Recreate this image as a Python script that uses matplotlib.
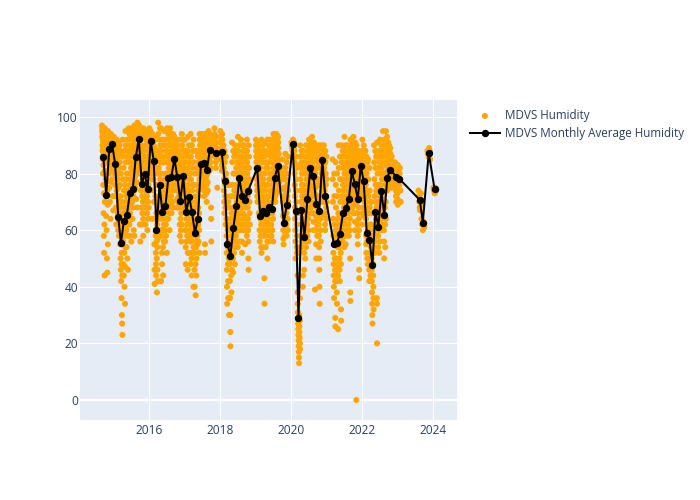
import numpy as np
import pandas as pd
import matplotlib
matplotlib.use('Agg')
import matplotlib.pyplot as plt
import matplotlib.dates as mdates

# daily humidity readings, grouped by month (estimated from the chart)
hum_2014 = {
    9: [97, 95, 93, 96, 90, 88, 94, 85, 92, 80, 89, 76, 91, 83, 66, 87, 58, 95, 73, 52, 86, 62, 93, 44, 81, 70],
    10: [96, 94, 91, 95, 87, 93, 84, 78, 90, 65, 92, 86, 60, 94, 81, 50, 89, 74, 45, 88, 92, 69, 55],
    11: [95, 93, 90, 94, 88, 86, 92, 80, 91, 75, 89, 94, 82, 70, 93, 87, 84, 91, 64, 77],
    12: [94, 92, 89, 93, 86, 90, 84, 91, 78, 88, 93, 72, 85, 90, 67, 92, 87, 81],
}
hum_2015 = {
    1: [93, 91, 88, 92, 85, 80, 90, 76, 87, 72, 92, 83, 68, 89, 79, 62, 86, 74, 90],
    2: [92, 88, 84, 90, 78, 72, 86, 66, 80, 60, 91, 75, 63, 84, 70, 58, 87, 82, 68],
    3: [90, 84, 76, 68, 60, 55, 88, 72, 50, 64, 46, 80, 58, 42, 70, 48, 36, 52, 62, 30, 56, 27, 44, 23, 66],
    4: [92, 86, 78, 70, 62, 56, 48, 82, 66, 44, 74, 58, 52, 40, 88, 68, 60, 34, 76, 54, 47],
    5: [95, 90, 84, 78, 72, 66, 60, 54, 92, 80, 70, 62, 50, 86, 74, 58, 46, 88, 64, 68],
    6: [96, 92, 86, 80, 74, 68, 62, 94, 84, 76, 66, 58, 90, 78, 70, 88, 72, 82, 64, 56],
    7: [96, 93, 88, 82, 76, 70, 64, 94, 86, 78, 68, 90, 80, 72, 60, 92, 84, 74, 58],
    8: [97, 95, 91, 87, 83, 79, 75, 93, 89, 85, 81, 71, 96, 88, 77, 92, 86, 68, 90, 82],
    9: [98, 96, 94, 92, 90, 88, 86, 84, 95, 91, 87, 82, 97, 93, 89, 80, 62, 94, 96, 56],
    10: [96, 92, 86, 80, 74, 68, 94, 84, 76, 62, 90, 82, 72, 66, 88, 78, 70, 93, 64, 58],
    11: [96, 93, 88, 84, 80, 76, 72, 68, 94, 86, 78, 70, 62, 90, 82, 74, 92, 66],
    12: [95, 90, 84, 78, 72, 66, 60, 92, 86, 80, 70, 64, 88, 76, 68, 94, 82, 74],
}
hum_2016 = {
    1: [96, 94, 92, 90, 88, 86, 84, 82, 95, 93, 91, 89, 87, 85, 80, 78, 93, 91, 89, 86, 64],
    2: [94, 91, 88, 85, 82, 80, 92, 86, 78, 74, 90, 84, 70, 93, 88, 55, 46, 41, 89, 86, 82],
    3: [92, 82, 72, 64, 58, 52, 48, 44, 86, 76, 66, 56, 50, 38, 80, 62, 54, 46, 70, 60, 68, 42, 57],
    4: [98, 94, 88, 82, 76, 70, 64, 58, 92, 86, 80, 72, 66, 96, 84, 78, 68, 90, 74, 60, 42],
    5: [96, 88, 80, 72, 64, 58, 52, 48, 92, 84, 76, 68, 60, 54, 44, 86, 74, 66, 62, 56, 70],
    6: [95, 90, 84, 78, 72, 66, 60, 56, 92, 86, 80, 74, 62, 58, 88, 70, 64, 68, 76, 52],
    7: [96, 92, 88, 84, 80, 76, 72, 68, 64, 94, 90, 86, 82, 78, 74, 70, 66, 60, 92, 84, 80],
    8: [96, 93, 90, 87, 84, 81, 78, 75, 72, 69, 66, 94, 88, 82, 76, 70, 92, 86, 80, 74, 68],
    9: [94, 92, 90, 88, 86, 84, 82, 80, 93, 91, 89, 87, 85, 83, 78, 76, 90, 88, 86],
    10: [92, 89, 86, 83, 80, 77, 74, 71, 68, 90, 86, 82, 78, 74, 70, 88, 84, 80, 76, 72],
    11: [92, 86, 80, 74, 68, 62, 58, 88, 82, 76, 70, 64, 60, 84, 72, 66, 56, 78, 68, 62],
    12: [94, 90, 86, 82, 78, 74, 70, 92, 88, 84, 80, 76, 72, 88, 82, 78, 74, 68],
}
hum_2017 = {
    1: [92, 84, 76, 68, 60, 54, 48, 88, 80, 72, 64, 56, 86, 74, 62, 58, 70, 66, 46, 52],
    2: [93, 88, 82, 76, 70, 64, 58, 52, 90, 84, 78, 72, 66, 60, 86, 74, 68, 80, 62, 56, 48],
    3: [94, 86, 78, 70, 62, 56, 50, 44, 90, 82, 74, 66, 58, 52, 88, 76, 64, 68, 60, 40, 54],
    4: [92, 84, 76, 68, 60, 52, 46, 40, 88, 80, 72, 64, 56, 48, 37, 70, 62, 54, 58, 44, 50],
    5: [88, 82, 76, 70, 64, 58, 55, 86, 80, 74, 68, 62, 56, 84, 72, 66, 60, 52, 78],
    6: [94, 92, 90, 88, 86, 84, 82, 80, 78, 76, 93, 91, 89, 87, 85, 83, 81, 79, 77, 75],
    7: [94, 92, 90, 88, 86, 84, 82, 80, 78, 76, 74, 72, 93, 89, 85, 81, 77, 55, 52, 91, 87],
    8: [94, 91, 88, 85, 82, 79, 76, 73, 70, 92, 89, 86, 83, 80, 77, 74, 90, 87, 84, 81],
    9: [95, 93, 91, 89, 87, 85, 83, 81, 94, 92, 90, 88, 86, 84, 82, 93, 91, 89, 87, 68, 64, 56],
    11: [96, 94, 92, 90, 88, 86, 84, 82, 93, 91, 89, 87, 85, 75],
}
hum_2018 = {
    1: [95, 93, 91, 89, 87, 85, 83, 81, 94, 92, 90, 88, 86, 84],
    2: [90, 86, 82, 78, 74, 70, 66, 88, 84, 80, 76, 72, 68, 62, 86, 78],
    3: [80, 72, 64, 58, 52, 46, 40, 34, 76, 68, 60, 54, 48, 42, 36, 70, 62, 56, 50, 30],
    4: [76, 68, 60, 54, 48, 42, 36, 30, 24, 19, 72, 64, 56, 50, 44, 38, 66, 58, 52, 46],
    5: [91, 84, 76, 68, 62, 56, 50, 45, 88, 80, 72, 64, 58, 52, 86, 74, 66, 60, 54, 48],
    6: [90, 86, 80, 74, 68, 62, 58, 88, 82, 76, 70, 64, 60, 56, 84, 72, 66, 62, 54, 70],
    7: [93, 88, 84, 80, 76, 72, 68, 64, 60, 56, 90, 86, 82, 78, 74, 70, 66, 62, 86, 80],
    8: [92, 86, 80, 74, 68, 62, 56, 52, 90, 84, 78, 72, 66, 60, 88, 76, 70, 64, 82, 74],
    9: [90, 85, 80, 75, 70, 65, 60, 55, 88, 82, 78, 72, 68, 62, 86, 76, 70, 64, 58],
    10: [92, 88, 84, 80, 76, 72, 68, 64, 60, 56, 50, 46, 90, 86, 82, 78, 74, 70, 66, 62],
}
hum_2019 = {
    1: [92, 90, 88, 86, 84, 82, 80, 78, 76, 74, 72, 70, 91, 89, 87, 85, 83, 81, 79, 77, 66],
    2: [90, 84, 78, 72, 66, 60, 56, 88, 82, 76, 70, 64, 58, 86, 74, 68, 62, 54, 80, 52],
    3: [92, 86, 80, 74, 68, 62, 58, 54, 90, 84, 78, 72, 66, 60, 88, 76, 70, 64, 43, 34],
    4: [91, 86, 80, 74, 68, 62, 58, 54, 88, 82, 76, 70, 64, 60, 84, 72, 66, 56, 50],
    5: [92, 87, 82, 76, 70, 64, 60, 56, 90, 84, 78, 72, 66, 62, 88, 80, 74, 68, 58],
    6: [92, 86, 80, 74, 68, 62, 58, 90, 84, 78, 72, 66, 60, 88, 76, 70, 64, 56, 82],
    7: [94, 92, 90, 88, 86, 84, 82, 80, 78, 76, 74, 72, 70, 93, 89, 85, 81, 77, 73],
    8: [94, 92, 90, 88, 86, 84, 82, 80, 78, 76, 74, 93, 91, 89, 87, 85, 83, 81, 79, 77],
    10: [85, 80, 75, 70, 65, 60, 57, 55, 82, 78, 72, 68, 62, 58, 80, 74, 66, 60],
    11: [87, 82, 78, 74, 70, 66, 62, 58, 84, 80, 76, 72, 68, 64, 60, 86, 74, 70],
}
hum_2020 = {
    1: [91, 90, 89, 88, 92, 90, 89, 91],
    2: [88, 84, 80, 76, 72, 68, 64, 60, 56, 50, 86, 82, 78, 74, 70, 66, 62, 58, 54, 52],
    3: [83, 66, 52, 44, 38, 34, 31, 29, 27, 25, 23, 21, 19, 17, 15, 13, 30, 26, 24, 22, 28, 36, 20, 18],
    4: [90, 86, 82, 78, 74, 70, 66, 62, 58, 54, 88, 84, 80, 76, 72, 68, 64, 60, 56, 40, 44],
    5: [88, 82, 76, 70, 64, 58, 52, 46, 86, 80, 74, 68, 62, 56, 50, 84, 72, 66, 60, 54],
    6: [90, 86, 82, 78, 74, 70, 66, 62, 58, 88, 84, 80, 76, 72, 68, 64, 60, 56, 86, 82],
    7: [92, 90, 88, 86, 84, 82, 80, 78, 76, 74, 72, 70, 68, 66, 91, 89, 87, 85, 83, 81],
    8: [93, 90, 87, 84, 81, 78, 75, 72, 69, 66, 63, 60, 91, 88, 85, 82, 79, 76, 73, 39],
    9: [90, 85, 80, 75, 70, 65, 60, 55, 50, 88, 82, 78, 72, 68, 62, 58, 86, 76, 70, 64],
    10: [90, 84, 78, 72, 66, 62, 58, 54, 50, 46, 40, 34, 88, 82, 76, 70, 64, 60, 56, 86],
    11: [90, 88, 86, 84, 82, 80, 78, 76, 74, 72, 89, 87, 85, 83, 81, 79, 77, 70, 65],
    12: [90, 86, 82, 78, 74, 70, 66, 62, 60, 88, 84, 80, 76, 72, 68, 64, 86, 78, 70],
}
hum_2021 = {
    3: [85, 78, 70, 64, 58, 52, 48, 44, 40, 36, 80, 72, 62, 56, 50, 46, 42, 29, 26, 60],
    4: [84, 76, 68, 62, 56, 50, 46, 42, 38, 34, 80, 72, 64, 58, 54, 48, 44, 25, 60, 66],
    5: [90, 82, 74, 66, 60, 54, 50, 46, 42, 86, 78, 70, 62, 58, 52, 48, 32, 28, 64, 56],
    6: [90, 84, 78, 72, 66, 60, 56, 88, 82, 76, 70, 64, 58, 86, 74, 68, 62, 54, 80],
    7: [93, 88, 82, 76, 70, 64, 58, 55, 90, 84, 78, 72, 66, 60, 86, 80, 74, 68, 62],
    8: [90, 86, 82, 78, 74, 70, 66, 62, 58, 88, 84, 80, 76, 72, 68, 64, 60, 50, 38, 35],
    9: [92, 90, 88, 86, 84, 82, 80, 78, 76, 74, 72, 70, 68, 91, 89, 87, 85, 83, 81, 79, 66],
    10: [93, 90, 87, 84, 81, 78, 75, 72, 69, 66, 63, 60, 91, 88, 85, 82, 79, 76, 73, 70, 0],
    11: [90, 86, 82, 78, 74, 70, 66, 62, 58, 55, 88, 84, 80, 76, 72, 68, 64, 60, 46, 43],
    12: [88, 86, 84, 82, 80, 78, 76, 74, 72, 87, 85, 83, 81, 79, 77, 75, 73, 66, 62],
}
hum_2022 = {
    1: [92, 88, 84, 80, 76, 72, 68, 65, 90, 86, 82, 78, 74, 70, 66, 88, 80, 76],
    2: [88, 82, 76, 70, 64, 58, 55, 52, 86, 80, 74, 68, 62, 56, 50, 84, 72, 66, 60, 48],
    3: [85, 78, 72, 66, 60, 55, 50, 46, 42, 82, 74, 68, 62, 56, 52, 48, 44, 70, 58, 54],
    4: [70, 62, 56, 50, 46, 42, 38, 34, 30, 27, 66, 58, 52, 48, 44, 40, 36, 32, 54, 60],
    5: [90, 84, 78, 72, 66, 60, 56, 52, 88, 82, 76, 70, 64, 58, 86, 74, 68, 62, 36, 34],
    6: [20, 91, 86, 80, 74, 68, 62, 58, 54, 88, 82, 76, 70, 64, 60, 52, 84, 72, 66, 56],
    7: [92, 88, 84, 80, 76, 72, 68, 64, 60, 90, 86, 82, 78, 74, 70, 66, 62, 88, 80],
    8: [95, 90, 84, 78, 72, 66, 60, 56, 50, 92, 86, 80, 74, 68, 62, 54, 88, 76, 70, 64],
    9: [95, 92, 89, 86, 83, 80, 77, 74, 93, 90, 87, 84, 81, 78, 75, 91, 88, 85, 82, 79],
    10: [90, 88, 86, 84, 82, 80, 78, 76, 89, 87, 85, 83, 81, 79, 77, 75, 86, 82],
    12: [84, 82, 80, 78, 76, 74, 72, 70, 83, 81, 79, 77, 75, 73, 71, 69],
}
hum_2023 = {
    1: [83, 81, 79, 78, 77, 76, 80, 82, 78, 74, 70],
    8: [74, 72, 70, 68, 67, 71, 73, 69],
    9: [64, 62, 60, 63, 61],
    11: [88, 87, 86, 89, 88, 85],
}
hum_2024 = {
    1: [75, 74, 73, 75, 74],
}

# monthly averages
avg_months = [
    "2014-09", "2014-10", "2014-11", "2014-12",
    "2015-01", "2015-02", "2015-03", "2015-04", "2015-05", "2015-06",
    "2015-07", "2015-08", "2015-09", "2015-10", "2015-11", "2015-12",
    "2016-01", "2016-02", "2016-03", "2016-04", "2016-05", "2016-06",
    "2016-07", "2016-08", "2016-09", "2016-10", "2016-11", "2016-12",
    "2017-01", "2017-02", "2017-03", "2017-04", "2017-05", "2017-06",
    "2017-07", "2017-08", "2017-09", "2017-11",
    "2018-01", "2018-02", "2018-03", "2018-04", "2018-05", "2018-06",
    "2018-07", "2018-08", "2018-09", "2018-10",
    "2019-01", "2019-02", "2019-03", "2019-04", "2019-05", "2019-06",
    "2019-07", "2019-08", "2019-10", "2019-11",
    "2020-01", "2020-02", "2020-03", "2020-04", "2020-05", "2020-06",
    "2020-07", "2020-08", "2020-09", "2020-10", "2020-11", "2020-12",
    "2021-03", "2021-04", "2021-05", "2021-06", "2021-07", "2021-08",
    "2021-09", "2021-10", "2021-11", "2021-12",
    "2022-01", "2022-02", "2022-03", "2022-04", "2022-05", "2022-06",
    "2022-07", "2022-08", "2022-09", "2022-10", "2022-12",
    "2023-01", "2023-08", "2023-09", "2023-11", "2024-01",
]
avg_values = [
    85.8, 72.4, 88.7, 90.3,
    83.3, 64.8, 55.4, 63.4, 65.4, 73.0,
    74.4, 85.8, 92.3, 76.3, 79.9, 74.7,
    91.6, 84.6, 60.1, 75.9, 66.4, 68.5,
    78.6, 78.8, 85.3, 78.8, 70.3, 79.0,
    66.4, 71.7, 66.4, 59.0, 64.0, 83.3,
    83.6, 81.4, 88.4, 87.4,
    87.5, 77.3, 55.1, 51.0, 60.9, 68.6,
    78.3, 72.1, 70.7, 74.0,
    81.9, 65.0, 66.7, 66.0, 68.1, 67.4,
    78.6, 82.7, 62.5, 68.8,
    90.3, 66.9, 28.9, 67.0, 57.5, 71.0,
    81.9, 79.2, 69.2, 66.8, 84.9, 72.1,
    55.1, 55.6, 58.6, 66.0, 67.8, 70.9,
    80.8, 76.3, 70.9, 82.7,
    77.3, 59.1, 56.6, 47.7, 66.6, 61.2,
    73.7, 65.4, 78.6, 81.4, 78.9,
    78.2, 70.7, 62.7, 87.2, 74.4,
]

# spread each month's readings over the days of that month
dates, values = [], []
for year, months in [(2014, hum_2014), (2015, hum_2015), (2016, hum_2016), (2017, hum_2017),
                     (2018, hum_2018), (2019, hum_2019), (2020, hum_2020), (2021, hum_2021),
                     (2022, hum_2022), (2023, hum_2023), (2024, hum_2024)]:
    for m, vals in months.items():
        start = pd.Timestamp(year, m, 1)
        ndays = start.days_in_month
        offs = np.linspace(0.5, ndays - 0.5, len(vals))
        dates += [start + pd.Timedelta(days=float(o)) for o in offs]
        values += vals

avg_dates = [pd.Timestamp(s + "-15") for s in avg_months]

plt.rcParams['font.family'] = ['Open Sans', 'DejaVu Sans']
text_col = '#2a3f5f'

fig = plt.figure(figsize=(7, 5), dpi=100)
ax = fig.add_axes([80 / 700, 80 / 500, 377 / 700, 320 / 500])
ax.set_facecolor('#E5ECF6')

ax.scatter(dates, values, s=19, color='#FFA500', edgecolors='none', zorder=3, label='MDVS Humidity')
ax.plot(avg_dates, avg_values, color='black', lw=1.45, marker='o', ms=4.3, zorder=4,
        label='MDVS Monthly Average Humidity')

ax.set_ylim(-7.07, 106.0)
ax.set_xlim(pd.Timestamp('2014-01-18'), pd.Timestamp('2024-09-01'))
ax.set_yticks([0, 20, 40, 60, 80, 100])
ax.set_xticks([pd.Timestamp(f'{y}-01-01') for y in [2016, 2018, 2020, 2022, 2024]])
ax.xaxis.set_major_formatter(mdates.DateFormatter('%Y'))
ax.grid(True, color='white', lw=0.75, zorder=0)
ax.axhline(0, color='white', lw=1.5, zorder=1)
ax.set_axisbelow(True)
for sp in ax.spines.values():
    sp.set_visible(False)
ax.tick_params(length=0, labelsize=8.6, labelcolor=text_col)
ax.tick_params(axis='y', pad=1.5)
ax.tick_params(axis='x', pad=3)

fig.legend(loc='upper left', bbox_to_anchor=(470 / 700, 1 - 109 / 500), frameon=False,
           fontsize=8.4, labelcolor=text_col, handlelength=2.55, handletextpad=0.45,
           borderpad=0, borderaxespad=0, labelspacing=0.45, scatterpoints=1)

fig.savefig('out.png', dpi=100)
